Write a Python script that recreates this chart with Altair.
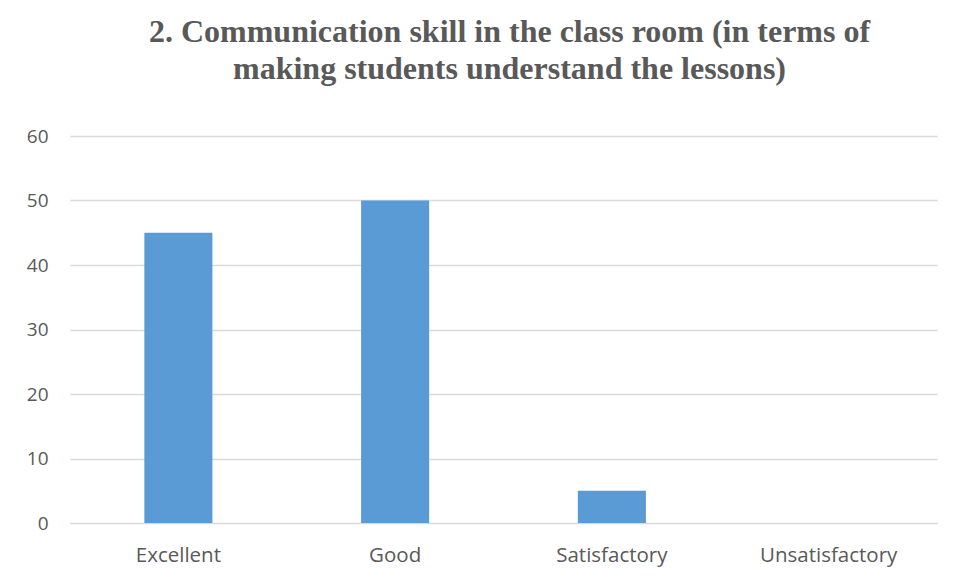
import altair as alt
import pandas as pd

categories = ["Excellent", "Good", "Satisfactory", "Unsatisfactory"]
values = [45, 50, 5, 0]

df = pd.DataFrame({"category": categories, "value": values})

chart = alt.Chart(df).mark_bar(color="#5b9bd5").encode(
    x=alt.X("category:N", sort=categories, title=None,
            scale=alt.Scale(paddingInner=0.686, paddingOuter=0.343),
            axis=alt.Axis(labelAngle=0, labelFontSize=20.5, labelColor="#595959",
                          labelFont="Open Sans", labelPadding=22, ticks=False,
                          domain=True, domainColor="#d9d9d9", grid=False)),
    y=alt.Y("value:Q", title=None,
            scale=alt.Scale(domain=[0, 60]),
            axis=alt.Axis(values=[0, 10, 20, 30, 40, 50, 60], labelFontSize=19,
                          labelColor="#595959", labelFont="Open Sans",
                          labelPadding=22, ticks=False, domain=False,
                          gridColor="#d9d9d9", gridWidth=1.3)),
).properties(
    width=867,
    height=387,
    title=alt.TitleParams(
        text=["2. Communication skill in the class room (in terms of",
              "making students understand the lessons)"],
        font="Liberation Serif", fontSize=32, fontWeight="bold",
        color="#595959", anchor="middle", offset=41, dx=6, lineHeight=37,
    ),
    autosize=alt.AutoSizeParams(type="none"),
    padding={"left": 62, "top": 128, "right": 10, "bottom": 50},
).configure_view(stroke=None)

chart.save("out.html", embed_options={"renderer": "svg", "actions": False})
